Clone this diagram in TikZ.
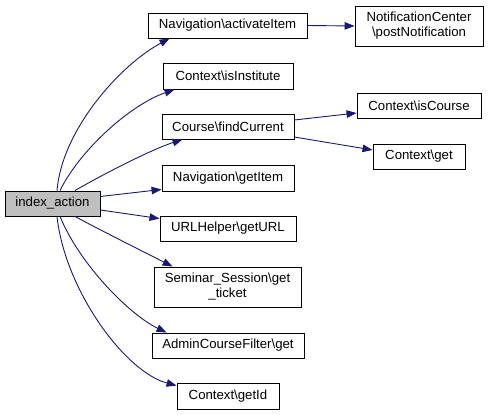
\documentclass[tikz,border=0pt]{standalone}
\usepackage{fontspec}
\setmainfont{Liberation Sans}
\usetikzlibrary{arrows.meta}
\definecolor{edgecol}{HTML}{191970}
\newcommand{\bs}{\textbackslash}
\begin{document}
\begin{tikzpicture}[x=1pt,y=-1pt,
  box/.style={draw=black,line width=0.9pt,fill=white,inner sep=0pt,align=center,font=\fontsize{13.2}{15}\selectfont},
  edge/.style={draw=edgecol,line width=0.9pt,-{Triangle[length=10pt,width=7.5pt]}}]
\useasboundingbox (0,0) rectangle (488,415);
\node[box,fill={rgb,255:red,191;green,191;blue,191},minimum width=95pt,minimum height=25pt] (idx) at (52.5,203.5) {index\_action};
\node[box,minimum width=159pt,minimum height=25pt] (nav1) at (227.5,25.5) {Navigation\bs activateItem};
\node[box,minimum width=128pt,minimum height=40pt] (notif) at (419,26) {NotificationCenter\\\bs postNotification};
\node[box,minimum width=130pt,minimum height=26pt] (isinst) at (228,76) {Context\bs isInstitute};
\node[box,minimum width=132pt,minimum height=25pt] (find) at (228,126.5) {Course\bs findCurrent};
\node[box,minimum width=124pt,minimum height=25pt] (iscourse) at (419,105.5) {Context\bs isCourse};
\node[box,minimum width=92pt,minimum height=25pt] (cget) at (419,156.5) {Context\bs get};
\node[box,minimum width=132pt,minimum height=26pt] (getitem) at (228,178) {Navigation\bs getItem};
\node[box,minimum width=136pt,minimum height=25pt] (geturl) at (228,228.5) {URLHelper\bs getURL};
\node[box,minimum width=147pt,minimum height=40pt] (ticket) at (227.5,287) {Seminar\_Session\bs get\\\_ticket};
\node[box,minimum width=152pt,minimum height=25pt] (admin) at (228,345.5) {AdminCourseFilter\bs get};
\node[box,minimum width=102pt,minimum height=26pt] (getid) at (228,396) {Context\bs getId};

\draw[edge] ([xshift=4.5pt]idx.north) .. controls (62,130) and (120,65) .. ([xshift=22pt]nav1.south west);
\draw[edge] ([xshift=7.5pt]idx.north) .. controls (80,150) and (130,105) .. ([xshift=12pt]isinst.south west);
\draw[edge] ([xshift=22.5pt]idx.north) .. controls (100,176) and (150,150) .. ([xshift=21pt]find.south west);
\draw[edge] ([yshift=7pt]idx.east) -- ([yshift=2pt]getitem.south west);
\draw[edge] ([yshift=-6.5pt]idx.east) -- ([yshift=-3pt]geturl.north west);
\draw[edge] ([xshift=22.5pt]idx.south) .. controls (100,230) and (150,255) .. ([xshift=19pt]ticket.north west);
\draw[edge] ([xshift=7.5pt]idx.south) .. controls (80,265) and (130,315) .. ([xshift=15pt]admin.north west);
\draw[edge] ([xshift=4.5pt]idx.south) .. controls (65,290) and (125,372) .. ([yshift=-3pt]getid.north west);
\draw[edge] (nav1.east) -- (notif.west);
\draw[edge] ([yshift=6.5pt]find.east) -- ([yshift=-7.5pt]iscourse.west);
\draw[edge] ([yshift=-10.5pt]find.east) -- ([yshift=6.5pt]cget.west);
\end{tikzpicture}
\end{document}
